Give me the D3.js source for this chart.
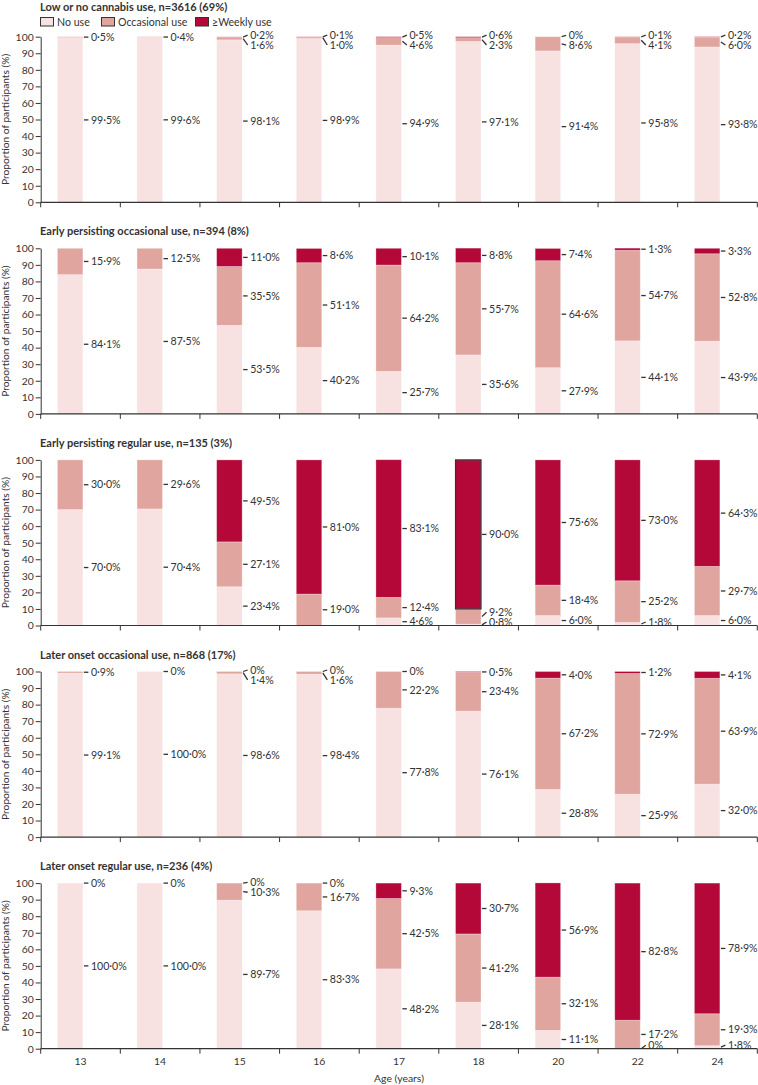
<!DOCTYPE html>
<html><head><meta charset="utf-8">
<script src="https://cdn.jsdelivr.net/npm/d3@7"></script>
<style>
body{margin:0;background:#fff}
svg{display:block}
text{font-family:Lato,"Open Sans",sans-serif;fill:#333}
</style>
</head><body>
<svg id="c" width="758" height="1085"></svg>
<script>
// ---------------- DATA ----------------
const ages = ["13","14","15","16","17","18","20","22","24"];
const seriesNames = ["No use","Occasional use","\u2265Weekly use"];
const groupTitles = [
  "Low or no cannabis use, n=3616 (69%)",
  "Early persisting occasional use, n=394 (8%)",
  "Early persisting regular use, n=135 (3%)",
  "Later onset occasional use, n=868 (17%)",
  "Later onset regular use, n=236 (4%)"
];
// null = no segment / no label
const lowNoUse   = [99.5, 99.6, 98.1, 98.9, 94.9, 97.1, 91.4, 95.8, 93.8];
const lowOcc     = [0.5, 0.4, 1.6, 1.0, 4.6, 2.3, 8.6, 4.1, 6.0];
const lowWeekly  = [null, null, 0.2, 0.1, 0.5, 0.6, 0, 0.1, 0.2];

const epoNoUse   = [84.1, 87.5, 53.5, 40.2, 25.7, 35.6, 27.9, 44.1, 43.9];
const epoOcc     = [15.9, 12.5, 35.5, 51.1, 64.2, 55.7, 64.6, 54.7, 52.8];
const epoWeekly  = [null, null, 11.0, 8.6, 10.1, 8.8, 7.4, 1.3, 3.3];

const eprNoUse   = [70.0, 70.4, 23.4, null, 4.6, 0.8, 6.0, 1.8, 6.0];
const eprOcc     = [30.0, 29.6, 27.1, 19.0, 12.4, 9.2, 18.4, 25.2, 29.7];
const eprWeekly  = [null, null, 49.5, 81.0, 83.1, 90.0, 75.6, 73.0, 64.3];

const looNoUse   = [99.1, 100.0, 98.6, 98.4, 77.8, 76.1, 28.8, 25.9, 32.0];
const looOcc     = [0.9, 0, 1.4, 1.6, 22.2, 23.4, 67.2, 72.9, 63.9];
const looWeekly  = [null, null, 0, 0, 0, 0.5, 4.0, 1.2, 4.1];

const lorNoUse   = [100.0, 100.0, 89.7, 83.3, 48.2, 28.1, 11.1, 0, 1.8];
const lorOcc     = [0, 0, 10.3, 16.7, 42.5, 41.2, 32.1, 17.2, 19.3];
const lorWeekly  = [null, null, 0, 0, 9.3, 30.7, 56.9, 82.8, 78.9];

const yTicks = [0,10,20,30,40,50,60,70,80,90,100];
const xTitle = "Age (years)";
const yTitle = "Proportion of participants (%)";
const colors = ["#f7e1e1","#e0a59f","#b30838"];
// outlined segment: group 3 (index 2), age 18, weekly
const highlight = {group:2, age:"18", series:2};

const groups = [
  [lowNoUse, lowOcc, lowWeekly],
  [epoNoUse, epoOcc, epoWeekly],
  [eprNoUse, eprOcc, eprWeekly],
  [looNoUse, looOcc, looWeekly],
  [lorNoUse, lorOcc, lorWeekly]
].map((s,i)=>({title:groupTitles[i], series:s}));

// ---------------- LAYOUT ----------------
const svg = d3.select("#c");
const left = 40.7, right = 757.3;
const firstTop = 36.7, plotH = 165.6, step = 211.6;
const x = d3.scaleBand().domain(ages).range([left, right]).padding(0);
const bw = x.bandwidth();
const barOff = 0.21*bw, barW = 0.32*bw;
const fmt = v => v === 0 ? "0%" : v.toFixed(1).replace(".", "\u00b7") + "%";

groups.forEach((g, gi) => {
  const top = firstTop + gi*step, bottom = top + plotH;
  const y = d3.scaleLinear().domain([0,100]).range([bottom, top]);
  const G = svg.append("g");

  // title
  G.append("text").attr("x", 40).attr("y", gi === 0 ? 11 : top - 13)
    .attr("font-size", 11).attr("font-weight", 700).text(g.title);

  // bars
  ages.forEach((a, ai) => {
    let acc = 0;
    const segs = g.series.map((s, si) => {
      const v = s[ai] == null ? 0 : s[ai];
      const seg = {si, v, lab: s[ai], lo: acc, hi: acc + v};
      acc += v;
      return seg;
    });
    const bx = x(a) + barOff;
    segs.forEach(sg => {
      if (sg.v <= 0) return;
      G.append("rect").attr("x", bx).attr("width", barW)
        .attr("y", y(sg.hi)).attr("height", y(sg.lo) - y(sg.hi))
        .attr("fill", colors[sg.si])
        .attr("stroke", "#fff").attr("stroke-opacity", 0.35).attr("stroke-width", 0.8);
    });
    if (highlight.group === gi && highlight.age === a) {
      const sg = segs[highlight.series];
      G.append("rect").attr("x", bx).attr("width", barW)
        .attr("y", y(sg.hi)).attr("height", y(sg.lo) - y(sg.hi))
        .attr("fill", "none").attr("stroke", "#333").attr("stroke-width", 1.2);
    }
    // labels
    const labs = segs.filter(sg => sg.lab != null)
      .map(sg => ({text: fmt(sg.lab), y0: y((sg.lo + sg.hi)/2)}))
      .sort((p,q) => p.y0 - q.y0);
    labs.forEach(l => l.y = l.y0);
    const gap = 9.8, minY = top - 1.5, maxY = bottom - 3.5;
    for (let it = 0; it < 60; it++) {
      for (let i = 1; i < labs.length; i++) {
        const d = labs[i].y - labs[i-1].y;
        if (d < gap) { const sh = (gap - d)/2; labs[i-1].y -= sh; labs[i].y += sh; }
      }
      labs.forEach(l => { l.y = Math.max(minY, Math.min(maxY, l.y)); });
    }
    for (let i = 1; i < labs.length; i++) labs[i].y = Math.max(labs[i].y, labs[i-1].y + gap);
    for (let i = labs.length - 1; i >= 0; i--) {
      if (i === labs.length - 1) labs[i].y = Math.min(labs[i].y, maxY);
      else labs[i].y = Math.min(labs[i].y, labs[i+1].y - gap);
    }
    const rx = bx + barW;
    labs.forEach(l => {
      G.append("line").attr("x1", rx + 1).attr("y1", l.y0)
        .attr("x2", rx + 5.5).attr("y2", l.y)
        .attr("stroke", "#333").attr("stroke-width", 1.3);
      G.append("text").attr("x", rx + 8).attr("y", l.y).attr("dy", "0.35em")
        .attr("font-size", 10.6).text(l.text);
    });
  });

  // y axis
  const ya = G.append("g").attr("transform", `translate(${left},0)`)
    .call(d3.axisLeft(y).tickValues(yTicks).tickSize(5).tickSizeOuter(0).tickPadding(2));
  ya.selectAll("text").attr("font-size", 10.4).attr("fill", "#333").attr("font-family", "Lato");
  ya.selectAll("line, path").attr("stroke", "#333").attr("stroke-width", 1);

  // x axis
  const xa = G.append("g").attr("transform", `translate(0,${bottom})`);
  xa.append("line").attr("x1", left).attr("x2", right).attr("stroke", "#333").attr("stroke-width", 1.2);
  const bounds = ages.map(a => x(a)).concat([right]);
  xa.selectAll("line.b").data(bounds).join("line").attr("class","b")
    .attr("x1", d => d).attr("x2", d => d).attr("y1", 0).attr("y2", 5)
    .attr("stroke", "#333").attr("stroke-width", 1);
  if (gi === groups.length - 1) {
    xa.selectAll("text.t").data(ages).join("text").attr("class","t")
      .attr("x", d => x(d) + bw/2).attr("y", 16).attr("text-anchor","middle")
      .attr("font-size", 10.4).text(d => d);
    xa.append("text").attr("x", (left+right)/2).attr("y", 33).attr("text-anchor","middle")
      .attr("font-size", 10.4).text(xTitle);
  }

  // y title
  G.append("text").attr("transform", `translate(9,${(top+bottom)/2}) rotate(-90)`)
    .attr("text-anchor","middle").attr("font-size", 10.2).text(yTitle);

  // legend
  if (gi === 0) {
    const lx = [40, 101, 195];
    seriesNames.forEach((n, i) => {
      G.append("rect").attr("x", lx[i] + 0.5).attr("y", 17.5).attr("width", 13).attr("height", 8.5)
        .attr("fill", colors[i]).attr("stroke", "#333").attr("stroke-width", 1);
      G.append("text").attr("x", lx[i] + 17).attr("y", 22).attr("dy","0.35em")
        .attr("font-size", 10.6).text(n);
    });
  }
});
</script>
</body></html>
